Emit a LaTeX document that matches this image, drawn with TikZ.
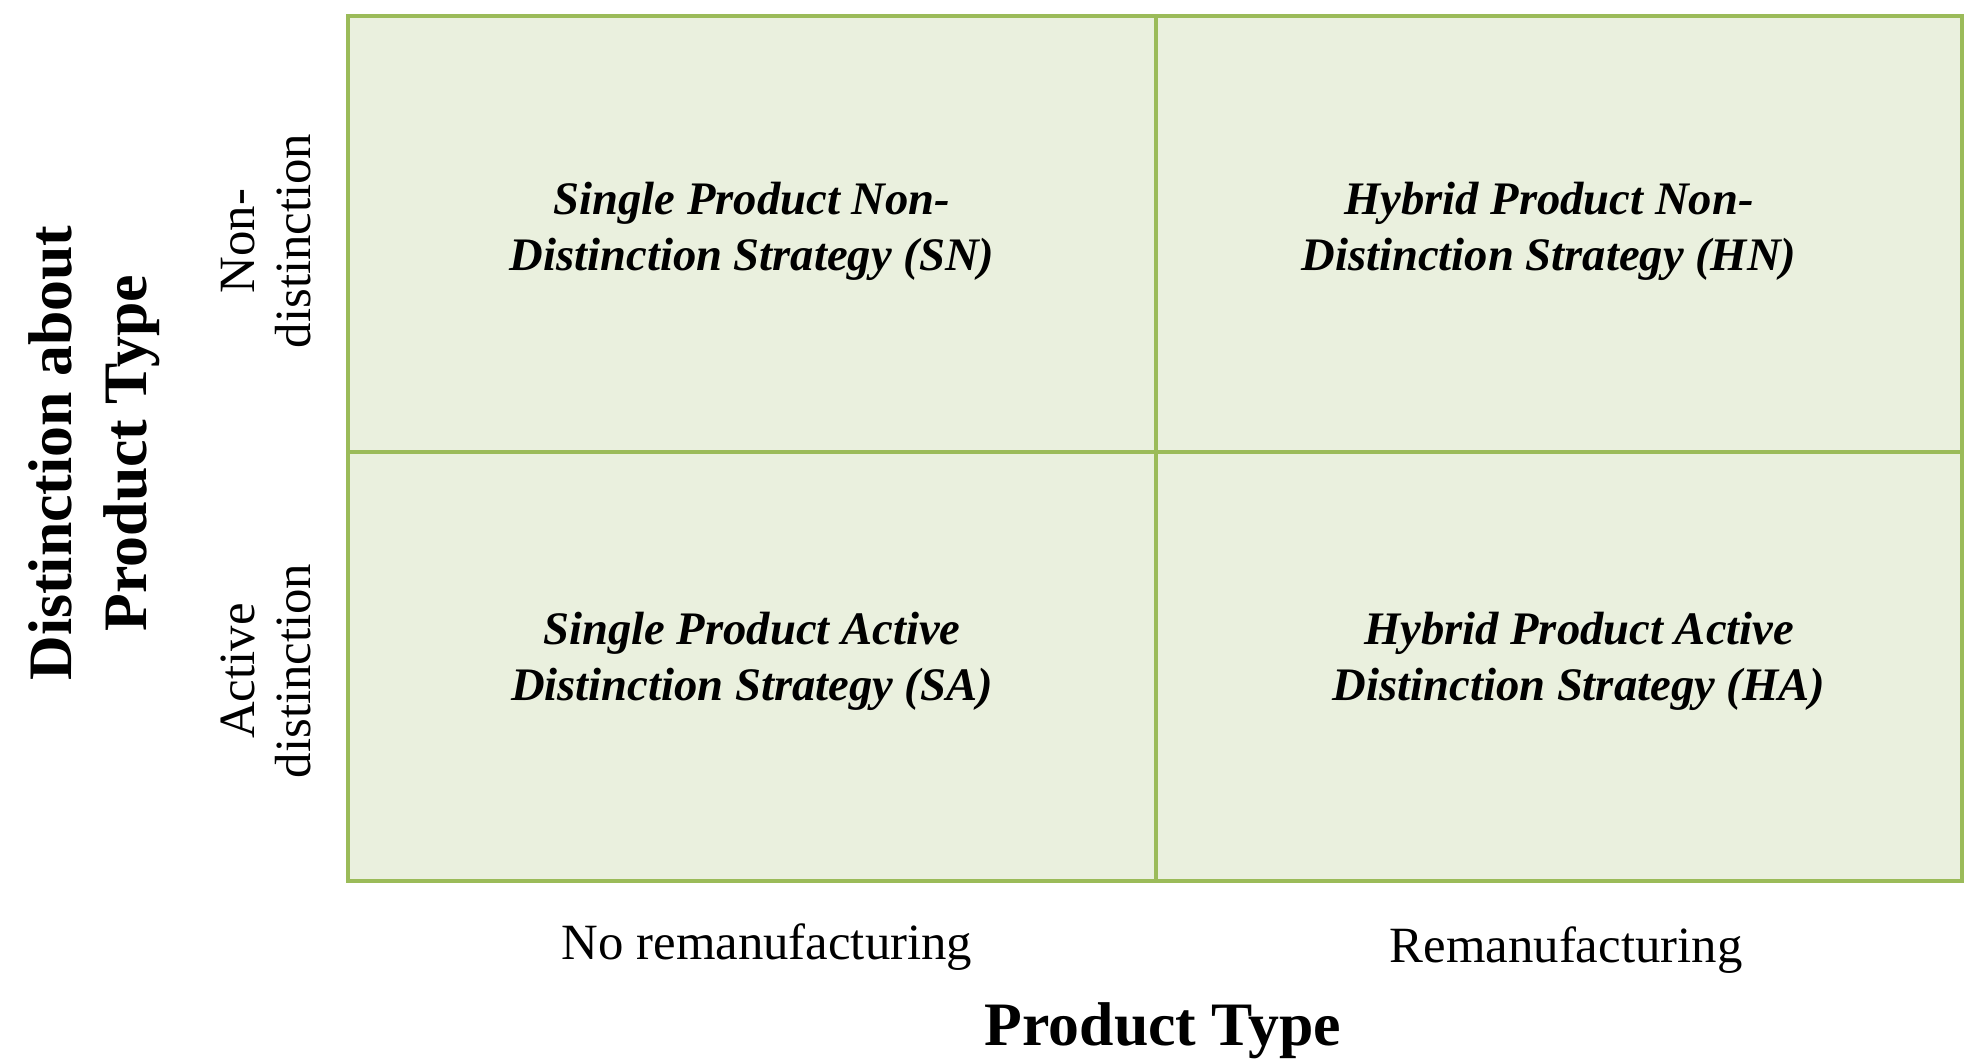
\documentclass[tikz,border=0pt]{standalone}
\usepackage{fontspec}
\setmainfont{Liberation Serif}
\definecolor{gridline}{RGB}{155,187,89}
\definecolor{cellfill}{RGB}{234,240,222}
\tikzset{
  cell/.style={draw=gridline, fill=cellfill, line width=2bp},
  celltext/.style={align=center, font=\fontsize{23.4}{28}\selectfont\bfseries\itshape},
  sidelabel/.style={align=center, rotate=90, font=\fontsize{25.5}{28}\selectfont},
  bottomlabel/.style={font=\fontsize{25.5}{28}\selectfont},
  axistitle/.style={align=center, font=\fontsize{31}{37.5}\selectfont\bfseries}
}
\begin{document}
\begin{tikzpicture}[x=0.5bp,y=-0.5bp]
  \useasboundingbox (0,0) rectangle (1965,1058);
  % 2x2 strategy matrix
  \draw[cell] (348,16) rectangle (1962,881);
  \draw[draw=gridline, line width=2bp] (1156,16) -- (1156,881);
  \draw[draw=gridline, line width=2bp] (348,452) -- (1962,452);
  % cell texts
  \node[celltext] (sn) at (752,231) {Single Product Non-\\Distinction Strategy (SN)};
  \node[celltext] (hn) at (1549,231) {Hybrid Product Non-\\Distinction Strategy (HN)};
  \node[celltext] (sa) at (752,661) {Single Product Active\\Distinction Strategy (SA)};
  \node[celltext] (ha) at (1579,661) {Hybrid Product Active\\Distinction Strategy (HA)};
  % row labels
  \node[sidelabel] (nondist) at (266,241) {Non-\\distinction};
  \node[sidelabel] (actdist) at (266,671) {Active\\distinction};
  \node[axistitle, rotate=90] (ytitle) at (94,453) {Distinction about\\Product Type};
  % column labels
  \node[bottomlabel] (norem) at (767,947) {No remanufacturing};
  \node[bottomlabel] (rem) at (1566,950) {Remanufacturing};
  \node[axistitle] (xtitle) at (1163,1031) {Product Type};
\end{tikzpicture}
\end{document}
